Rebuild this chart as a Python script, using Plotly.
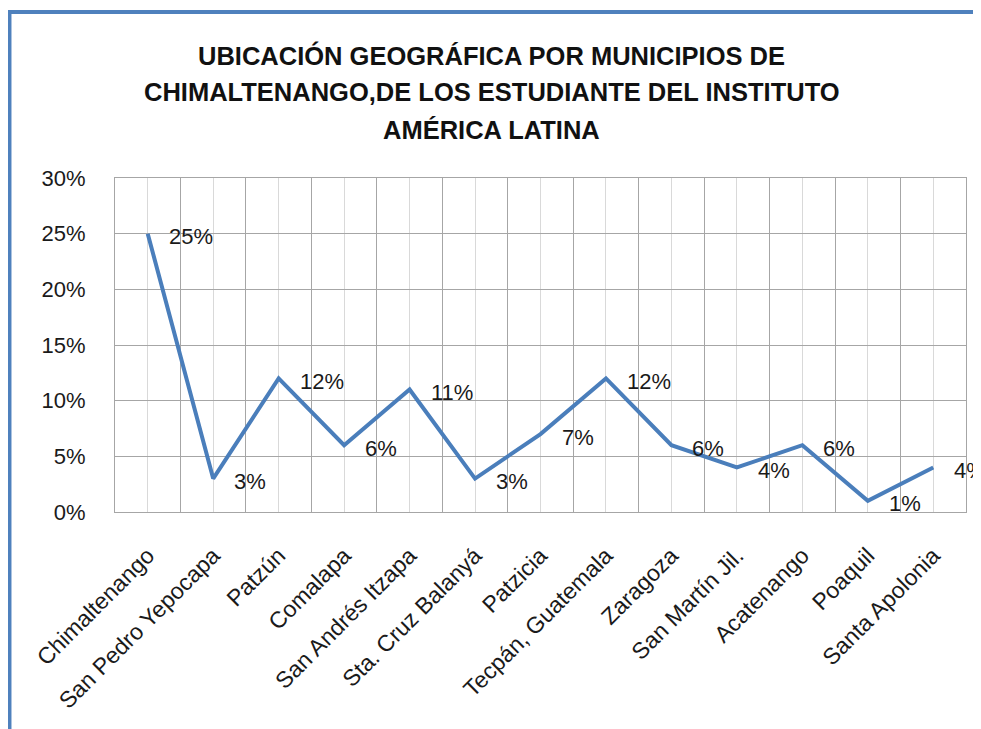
import plotly.graph_objects as go

municipios = ["Chimaltenango", "San Pedro Yepocapa", "Patzún", "Comalapa",
              "San Andrés Itzapa", "Sta. Cruz Balanyá", "Patzicia",
              "Tecpán, Guatemala", "Zaragoza", "San Martín Jil.", "Acatenango",
              "Poaquil", "Santa Apolonia"]
porcentajes = [25, 3, 12, 6, 11, 3, 7, 12, 6, 4, 6, 1, 4]
y_ticks = [0, 5, 10, 15, 20, 25, 30]
y_tick_labels = ["0%", "5%", "10%", "15%", "20%", "25%", "30%"]

titulo_lineas = ["UBICACIÓN GEOGRÁFICA POR MUNICIPIOS DE",
                 "CHIMALTENANGO,DE LOS ESTUDIANTE DEL INSTITUTO",
                 "AMÉRICA LATINA"]

FONT = "Liberation Sans, Arial, sans-serif"
BLUE = "#4A7EBB"

x = list(range(len(municipios)))

fig = go.Figure()
fig.add_trace(go.Scatter(
    x=x, y=porcentajes, mode="lines",
    line=dict(color=BLUE, width=4),
    hoverinfo="skip", showlegend=False,
))

for xi, v in zip(x, porcentajes):
    fig.add_annotation(x=xi, y=v, text=f"{v}%", showarrow=False,
                       xanchor="left", yanchor="middle", xshift=19, yshift=-3,
                       font=dict(family=FONT, size=22, color="#1a1a1a"))

# title, three centred lines
for linea, ty in zip(titulo_lineas, [1.366, 1.258, 1.145]):
    fig.add_annotation(xref="paper", yref="paper", x=0.443, y=ty, text=linea,
                       showarrow=False, xanchor="center", yanchor="middle",
                       font=dict(family=FONT, size=25.5, color="#111111", weight="bold"))

# blue outer frame (top and left edges of the original chart box)
fig.add_shape(type="line", xref="paper", yref="paper",
              x0=-0.124, x1=1.05, y0=1.497, y1=1.497,
              line=dict(color="#4F81BD", width=4))
fig.add_shape(type="line", xref="paper", yref="paper",
              x0=-0.124, x1=-0.124, y0=1.503, y1=-0.7,
              line=dict(color="#4F81BD", width=4))

fig.update_layout(
    width=973, height=721,
    margin=dict(l=107, r=15, t=170, b=217),
    paper_bgcolor="white", plot_bgcolor="white",
    font=dict(family=FONT, size=22, color="#1a1a1a"),
    xaxis=dict(range=[-0.5, len(municipios) - 0.5], tickvals=x, ticktext=municipios,
               tickangle=-45, showgrid=True, gridcolor="#D9D9D9", gridwidth=1,
               minor=dict(tick0=-0.5, dtick=1, showgrid=True, gridcolor="#A6A6A6", gridwidth=1),
               showline=True, mirror=True, linecolor="#A6A6A6", linewidth=1,
               ticks="", ticklabelstandoff=20, zeroline=False,
               tickfont=dict(family=FONT, size=23, color="#1a1a1a")),
    yaxis=dict(range=[0, 30], tickvals=y_ticks, ticktext=y_tick_labels,
               showgrid=True, gridcolor="#A6A6A6", gridwidth=1,
               showline=True, mirror=True, linecolor="#A6A6A6", linewidth=1,
               ticks="", ticklabelstandoff=24, zeroline=False,
               tickfont=dict(family=FONT, size=22, color="#1a1a1a")),
)

fig.write_html("out.html")
